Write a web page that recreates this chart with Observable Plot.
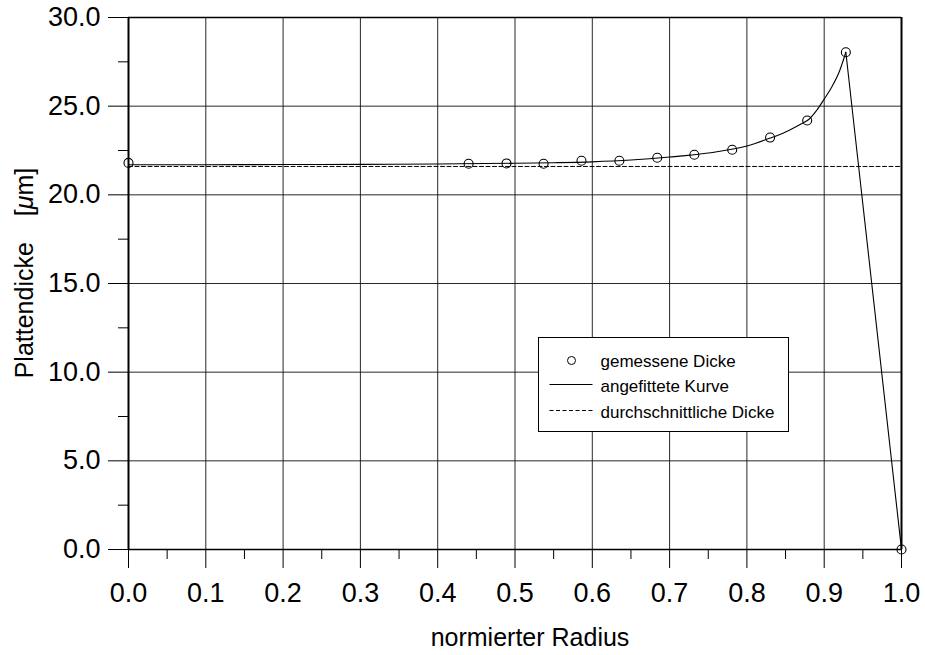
<!DOCTYPE html>
<html>
<head>
<meta charset="utf-8">
<script src="https://cdn.jsdelivr.net/npm/d3@7"></script>
<script src="https://cdn.jsdelivr.net/npm/@observablehq/plot@0.6"></script>
<style>
  html, body { margin: 0; padding: 0; background: #fff; }
  #chart svg { display: block; }
</style>
</head>
<body>
<div id="chart"></div>
<script>
// Measured plate thickness (µm) over normalised radius
const measuredRadius = [0.0, 0.44, 0.489, 0.537, 0.586, 0.635, 0.684, 0.732, 0.781, 0.830, 0.878, 0.928, 1.0];
const measuredThickness = [21.8, 21.75, 21.77, 21.75, 21.92, 21.92, 22.09, 22.26, 22.54, 23.23, 24.19, 28.04, 0.0];

// Fitted curve up to the rim peak
const fitRadius = [0.0, 0.1, 0.2, 0.3, 0.4, 0.5, 0.55, 0.6, 0.65, 0.7, 0.75, 0.8, 0.83, 0.85, 0.87, 0.88, 0.89, 0.9, 0.91, 0.92, 0.928];
const fitThickness = [21.70, 21.70, 21.71, 21.72, 21.74, 21.78, 21.81, 21.86, 21.96, 22.13, 22.36, 22.75, 23.2, 23.55, 24.0, 24.25, 24.75, 25.4, 26.1, 27.0, 28.04];

// Straight drop from the peak to the edge
const dropRadius = [0.928, 1.0];
const dropThickness = [28.04, 0.0];

// Average thickness
const averageThickness = 21.6;
const averageRadius = [0.0, 1.0];

// Axis ticks
const xMajorTicks = [0.0, 0.1, 0.2, 0.3, 0.4, 0.5, 0.6, 0.7, 0.8, 0.9, 1.0];
const xMinorTicks = [0.05, 0.15, 0.25, 0.35, 0.45, 0.55, 0.65, 0.75, 0.85, 0.95];
const yMajorTicks = [0, 5, 10, 15, 20, 25, 30];
const yMinorTicks = [2.5, 7.5, 12.5, 17.5, 22.5, 27.5];

const legendItems = ["gemessene Dicke", "angefittete Kurve", "durchschnittliche Dicke"];
const xTitle = "normierter Radius";

const measured = measuredRadius.map((r, i) => ({r, t: measuredThickness[i]}));
const fit = fitRadius.map((r, i) => ({r, t: fitThickness[i]}));
const drop = dropRadius.map((r, i) => ({r, t: dropThickness[i]}));
const average = averageRadius.map(r => ({r, t: averageThickness}));

const font = "'Liberation Sans', Arial, Helvetica, sans-serif";
const fmt = d => d.toFixed(1);

const chart = Plot.plot({
  width: 925,
  height: 655,
  marginLeft: 128,
  marginRight: 24,
  marginTop: 17,
  marginBottom: 106,
  style: {fontFamily: font, background: "#fff", color: "#000"},
  x: {domain: [0, 1]},
  y: {domain: [0, 30]},
  marks: [
    Plot.gridX(xMajorTicks, {stroke: "#111", strokeOpacity: 0.9, strokeWidth: 1}),
    Plot.gridY(yMajorTicks, {stroke: "#111", strokeOpacity: 0.9, strokeWidth: 1}),
    Plot.ruleX([0, 1], {stroke: "#000", strokeWidth: 2}),
    Plot.ruleY([0, 30], {stroke: "#000", strokeWidth: 1.6}),
    Plot.axisX(xMajorTicks, {tickSize: 19, tickPadding: 14, tickFormat: fmt, fontSize: 27, label: null, stroke: "#000"}),
    Plot.axisX(xMinorTicks, {tickSize: 10, tickFormat: () => "", label: null, stroke: "#000"}),
    Plot.axisY(yMajorTicks, {tickSize: 20, tickPadding: 8, tickFormat: fmt, fontSize: 27, label: null, stroke: "#000"}),
    Plot.axisY(yMinorTicks, {tickSize: 10, tickFormat: () => "", label: null, stroke: "#000"}),
    Plot.line(average, {x: "r", y: "t", stroke: "#000", strokeWidth: 1, strokeDasharray: "4,2.5"}),
    Plot.line(fit, {x: "r", y: "t", stroke: "#000", strokeWidth: 1.1, curve: "monotone-x"}),
    Plot.line(drop, {x: "r", y: "t", stroke: "#000", strokeWidth: 1.1}),
    Plot.dot(measured, {x: "r", y: "t", r: 4.5, stroke: "#000", strokeWidth: 1.1, fill: "none"})
  ]
});

document.getElementById("chart").appendChild(chart);

const svg = d3.select(chart);

// Axis titles
svg.append("text")
  .attr("x", 530)
  .attr("y", 646)
  .attr("text-anchor", "middle")
  .style("font-family", font)
  .style("font-size", "25px")
  .attr("fill", "#000")
  .text(xTitle);

const yt = svg.append("text")
  .attr("transform", "translate(33,273) rotate(-90)")
  .attr("text-anchor", "middle")
  .style("font-family", font)
  .style("font-size", "25px")
  .attr("fill", "#000");
yt.append("tspan").text("Plattendicke");
yt.append("tspan").attr("dx", 26).text("[");
yt.append("tspan").style("font-style", "italic").text("μ");
yt.append("tspan").text("m]");

// Legend box
const lg = svg.append("g").attr("transform", "translate(538.5,337.5)");
lg.append("rect").attr("width", 250).attr("height", 94).attr("fill", "#fff").attr("stroke", "#000").attr("stroke-width", 1);
lg.append("circle").attr("cx", 33).attr("cy", 23).attr("r", 4).attr("fill", "none").attr("stroke", "#000").attr("stroke-width", 1);
lg.append("line").attr("x1", 11).attr("x2", 54).attr("y1", 47).attr("y2", 47).attr("stroke", "#000").attr("stroke-width", 1);
lg.append("line").attr("x1", 11).attr("x2", 54).attr("y1", 73).attr("y2", 73).attr("stroke", "#000").attr("stroke-width", 1).attr("stroke-dasharray", "4,2.5");
legendItems.forEach((label, i) => {
  lg.append("text")
    .attr("x", 62)
    .attr("y", 29 + i * 25.7)
    .attr("text-anchor", "start")
    .style("font-family", font)
    .style("font-size", "17px")
    .attr("fill", "#000")
    .text(label);
});
</script>
</body>
</html>
